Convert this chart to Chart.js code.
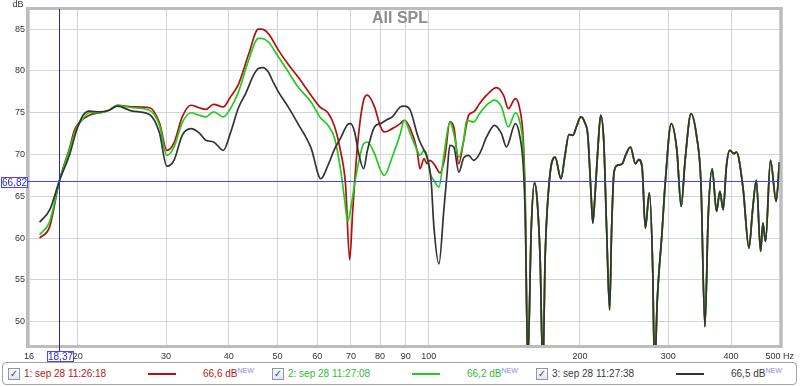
<!DOCTYPE html>
<html>
<head>
<meta charset="utf-8">
<title>All SPL</title>
<script src="https://cdn.jsdelivr.net/npm/chart.js@4.4.1/dist/chart.umd.min.js"></script>
<style>
  body { margin: 0; background: #fff; font-family: "Liberation Sans", Arial, sans-serif; }
  #wrap { position: relative; width: 800px; height: 387px; overflow: hidden; }
  #chart { position: absolute; left: 0; top: 0; }
  #legendBox { position: absolute; left: 2px; top: 362px; width: 793px; height: 21px;
               border: 1px solid #a3a3a3; border-radius: 4px; }
  .chk { position: absolute; top: 368px; width: 10px; height: 10px; border: 1px solid #8e98a4;
         background: linear-gradient(#fdfdfd, #e6e6e6); font-size: 10px; line-height: 10px;
         color: #2b55b8; text-align: center; font-family: "DejaVu Sans", sans-serif; font-weight: bold; }
  .txt { position: absolute; top: 368px; font-size: 10px; line-height: 12px; white-space: nowrap; }
  .seg { position: absolute; top: 373px; width: 28px; height: 2px; }
  .txt sup { font-size: 7px; color: #8a8af0; vertical-align: 4px; line-height: 0; }
</style>
</head>
<body>
<div id="wrap">
  <canvas id="chart" width="800" height="362"></canvas>
  <div id="legendBox"></div>
</div>
<script>
// measurement 1: sep 28 11:26:18
const redHz = [16.8, 17.6, 18.4, 19.3, 19.7, 20.2, 21.1, 22.1, 23.1, 24.0, 25.7, 27.8, 29.1, 30.1, 31.1, 32.3, 33.6, 34.9, 36.0, 37.3,
  39.0, 40.3, 41.8, 43.8, 45.8, 46.4, 47.9, 50.2, 52.5, 54.9, 58.3, 60.7, 63.0, 65.0, 66.8, 68.3, 69.6, 70.6, 72.2, 74.2,
  75.5, 78.0, 80.2, 81.6, 84.6, 87.8, 89.4, 91.9, 94.8, 96.1, 97.9, 99.2, 100.6, 102.9, 105.3, 107.7, 110.2, 112.2, 114.8, 117.4,
  120.1, 122.9, 126.3, 130.4, 136.5, 140.9, 144.1, 148.8, 151.5, 154.3, 155.7];
const redDb = [60.0, 61.4, 66.9, 70.9, 72.9, 73.9, 74.7, 75.0, 75.3, 75.9, 75.7, 75.6, 73.8, 70.5, 71.4, 74.5, 75.9, 75.6, 75.4, 76.0,
  75.7, 76.9, 78.4, 82.0, 85.0, 85.0, 84.5, 82.5, 80.8, 79.3, 77.1, 75.7, 75.0, 73.3, 70.3, 66.4, 57.4, 63.4, 71.3, 76.5,
  77.1, 75.7, 73.3, 72.7, 73.1, 73.7, 74.1, 73.1, 70.5, 68.3, 69.5, 68.9, 69.3, 68.7, 67.8, 69.7, 73.9, 73.3, 68.9, 71.7,
  74.7, 75.1, 76.1, 77.1, 78.0, 77.1, 75.5, 76.7, 75.7, 71.7, 64.6];

// measurement 2: sep 28 11:27:08
const greenHz = [16.8, 17.6, 18.4, 19.3, 19.8, 20.4, 21.1, 22.1, 23.1, 24.0, 25.7, 27.8, 29.1, 30.1, 31.1, 32.3, 33.6, 34.9, 36.0, 37.3,
  39.0, 40.3, 41.8, 43.8, 45.8, 46.4, 47.9, 50.2, 52.5, 54.9, 58.3, 60.7, 63.0, 65.0, 66.8, 68.0, 69.0, 69.9, 70.9, 72.2,
  74.2, 75.5, 78.0, 80.2, 81.6, 84.6, 87.8, 89.4, 91.9, 94.8, 96.1, 97.9, 99.2, 100.6, 102.4, 104.8, 107.2, 110.2, 112.2, 114.8,
  117.4, 119.0, 122.9, 126.3, 130.4, 135.2, 139.6, 144.1, 148.8, 151.5, 154.3, 155.7];
const greenDb = [60.4, 62.0, 66.9, 70.7, 72.9, 74.1, 75.0, 75.0, 75.3, 75.9, 75.6, 75.3, 73.5, 69.9, 70.9, 73.8, 75.0, 74.7, 74.5, 75.1,
  74.5, 75.5, 77.5, 81.3, 83.9, 83.9, 83.5, 81.7, 79.9, 78.1, 76.3, 74.5, 73.5, 71.9, 68.1, 64.6, 62.0, 63.4, 65.8, 68.5,
  71.3, 71.5, 70.1, 68.1, 67.5, 69.7, 72.5, 74.1, 72.5, 70.5, 69.9, 70.5, 69.9, 67.8, 66.9, 66.1, 69.9, 73.9, 72.5, 69.7,
  71.7, 74.1, 73.9, 74.9, 75.9, 76.5, 75.7, 73.3, 75.0, 74.1, 70.5, 63.4];

// measurement 3: sep 28 11:27:38
const blackHz = [16.8, 17.6, 18.4, 19.3, 19.9, 20.5, 21.1, 22.1, 23.1, 24.0, 25.7, 27.8, 29.1, 30.1, 31.1, 32.3, 33.6, 34.9, 36.0, 37.3,
  39.0, 40.3, 41.8, 43.2, 44.8, 45.8, 46.8, 47.9, 49.0, 50.2, 52.5, 54.9, 58.3, 61.0, 63.0, 65.0, 66.8, 69.0, 69.9, 71.2,
  72.5, 74.2, 75.5, 78.0, 80.2, 82.7, 84.6, 87.8, 89.4, 91.9, 94.8, 96.1, 97.9, 99.2, 101.1, 102.4, 104.8, 107.2, 108.7, 110.2,
  112.2, 114.8, 117.4, 120.1, 122.9, 126.3, 130.4, 135.2, 139.6, 142.8, 148.8, 151.5, 154.3, 155.7];
const blackDb = [61.9, 63.4, 66.9, 70.1, 72.9, 74.7, 75.2, 75.1, 75.3, 75.8, 75.2, 74.8, 72.6, 68.6, 69.3, 72.3, 73.1, 72.6, 71.7, 71.5,
  70.5, 72.6, 75.6, 77.3, 79.5, 80.3, 80.4, 79.9, 78.7, 77.5, 75.7, 73.7, 70.8, 67.1, 68.7, 70.7, 72.0, 73.6, 73.7, 72.7,
  70.2, 68.3, 70.5, 73.3, 73.7, 74.2, 74.5, 75.7, 75.8, 75.3, 72.5, 71.5, 70.5, 69.7, 66.9, 61.4, 56.9, 63.4, 67.5, 71.1,
  70.9, 67.9, 69.6, 69.9, 69.3, 70.1, 72.1, 73.5, 72.5, 70.9, 73.7, 72.5, 68.5, 62.2];

// above ~157 Hz the three traces lie on top of each other
const tailHz = [157.5, 160.0, 162.4, 164.4, 166.7, 168.8, 170.5, 173.9, 178.5, 183.4, 186.8, 190.2, 193.7, 197.3, 200.9, 204.6, 207.4,
  210.3, 212.2, 214.1, 217.1, 220.0, 223.1, 226.1, 229.2, 231.3, 233.8, 237.4, 242.9, 246.6, 252.2, 258.0, 261.9, 266.0,
  270.0, 275.0, 279.2, 281.7, 285.2, 291.4, 295.8, 304.0, 312.0, 318.2, 324.0, 332.9, 341.7, 348.4, 354.8, 360.2, 366.8,
  374.2, 380.0, 385.7, 391.7, 397.6, 405.5, 410.0, 422.5, 434.2, 441.6, 449.1, 458.0, 462.8, 468.5, 479.2, 491.9, 499.3];
const tailDb = [45.0, 61.0, 66.6, 64.6, 57.4, 44.0, 57.4, 66.9, 69.7, 67.1, 69.9, 72.4, 72.3, 73.5, 74.5, 73.8, 72.3,
  65.8, 61.8, 64.6, 70.5, 74.7, 71.7, 61.0, 51.4, 61.0, 67.8, 68.7, 68.9, 69.9, 70.9, 68.9, 69.4, 68.5,
  61.2, 65.4, 56.6, 44.0, 52.6, 60.6, 66.6, 73.7, 70.5, 63.8, 69.3, 74.9, 72.1, 66.6, 49.4, 62.6, 68.3,
  63.2, 65.6, 63.4, 68.7, 70.5, 70.1, 70.3, 66.0, 58.8, 63.4, 66.9, 58.4, 61.8, 59.6, 69.3, 64.4, 69.1];

const xTicks = [16, 20, 30, 40, 50, 60, 70, 80, 90, 100, 200, 300, 400, 500];
const yTicks = [50, 55, 60, 65, 70, 75, 80, 85];

const seriesNames = ['1: sep 28 11:26:18', '2: sep 28 11:27:08', '3: sep 28 11:27:38'];
const seriesLevels = ['66,6 dB', '66,2 dB', '66,5 dB'];
const lineColors = ['#b30f0f', '#1fcc1f', '#333333'];
const textColors = ['#b52020', '#33bb33', '#3a3a3a'];

const cursorHz = 18.37;
const cursorDb = 66.82;

const FONT = '"Liberation Sans", Arial, sans-serif';

function toPoints(hz, db) {
    const pts = [];
    const n = Math.min(hz.length, db.length);
    for (let i = 0; i < n; i++) pts.push({ x: hz[i], y: db[i] });
    for (let i = 0; i < tailHz.length; i++) pts.push({ x: tailHz[i], y: tailDb[i] });
    return pts;
}

// frame, title, cursor lines and their value boxes
const decor = {
    id: 'decor',
    afterDraw(chart) {
        const { ctx, chartArea: a, scales: { x, y } } = chart;
        ctx.save();

        ctx.strokeStyle = '#bcbcbc';
        ctx.lineWidth = 3;
        ctx.strokeRect(a.left - 1.5, a.top - 1.5, a.right - a.left + 3, a.bottom - a.top + 3);

        ctx.font = 'bold 16px ' + FONT;
        ctx.fillStyle = '#8c8c8c';
        ctx.textAlign = 'center';
        ctx.textBaseline = 'middle';
        ctx.fillText('All SPL', 400, 19);

        ctx.font = '9px ' + FONT;
        ctx.fillStyle = '#333';
        ctx.fillText('dB', 18, 5);

        const cx = Math.round(x.getPixelForValue(cursorHz)) + 0.5;
        const cy = Math.round(y.getPixelForValue(cursorDb)) + 0.5;
        ctx.lineWidth = 1;
        ctx.strokeStyle = '#2c2cb0';
        ctx.beginPath();
        ctx.moveTo(cx, a.top - 1);
        ctx.lineTo(cx, 351);
        ctx.stroke();
        ctx.strokeStyle = '#4545ee';
        ctx.beginPath();
        ctx.moveTo(a.left - 2, cy);
        ctx.lineTo(a.right, cy);
        ctx.stroke();

        tag(ctx, cursorDb.toFixed(2).replace('.', ','), 14, cy);
        tag(ctx, cursorHz.toFixed(2).replace('.', ','), cx, 356);
        ctx.restore();
    }
};

function tag(ctx, text, cx, cy) {
    const w = 26, h = 10;
    const l = Math.round(cx - w / 2) + 0.5, t = Math.round(cy - h / 2) + 0.5;
    ctx.fillStyle = '#fff';
    ctx.fillRect(l, t, w, h);
    ctx.strokeStyle = '#4a4ae8';
    ctx.strokeRect(l, t, w, h);
    ctx.font = '10px ' + FONT;
    ctx.fillStyle = '#2a2ad8';
    ctx.textAlign = 'center';
    ctx.textBaseline = 'middle';
    ctx.fillText(text, l + w / 2, t + h / 2 + 0.5);
}

new Chart(document.getElementById('chart'), {
    type: 'line',
    data: {
        datasets: [
            { label: seriesNames[0], data: toPoints(redHz, redDb), borderColor: lineColors[0], order: 2 },
            { label: seriesNames[1], data: toPoints(greenHz, greenDb), borderColor: lineColors[1], order: 1 },
            { label: seriesNames[2], data: toPoints(blackHz, blackDb), borderColor: lineColors[2], order: 0 }
        ]
    },
    options: {
        responsive: false,
        animation: false,
        layout: { padding: { top: 10, right: 15, left: 0, bottom: 0 } },
        elements: {
            line: { borderWidth: 1.7, cubicInterpolationMode: 'monotone', fill: false },
            point: { radius: 0, hoverRadius: 0 }
        },
        datasets: { line: { clip: 0 } },
        scales: {
            x: {
                type: 'logarithmic',
                min: 16,
                max: 500,
                afterBuildTicks: s => { s.ticks = xTicks.map(v => ({ value: v })); },
                afterFit: s => { s.height = 17; },
                ticks: {
                    autoSkip: false,
                    maxRotation: 0,
                    padding: 6,
                    color: '#333',
                    font: { family: FONT, size: 9 },
                    callback: v => v === 500 ? '500 Hz' : String(v)
                },
                grid: { color: '#d4d4d4', drawTicks: false },
                border: { display: false }
            },
            y: {
                min: 47.2,
                max: 87.3,
                afterBuildTicks: s => { s.ticks = yTicks.map(v => ({ value: v })); },
                afterFit: s => { s.width = 29; },
                ticks: {
                    padding: 4,
                    color: '#333',
                    font: { family: FONT, size: 9 }
                },
                grid: { color: '#d4d4d4', drawTicks: false },
                border: { display: false }
            }
        },
        plugins: {
            legend: { display: false },
            tooltip: { enabled: false }
        }
    },
    plugins: [decor]
});

// legend row below the plot
const wrap = document.getElementById('wrap');
seriesNames.forEach((name, i) => {
    const off = i * 264;
    const chk = document.createElement('div');
    chk.className = 'chk';
    chk.style.left = (8 + off) + 'px';
    chk.textContent = '\u2713';
    wrap.appendChild(chk);

    const label = document.createElement('div');
    label.className = 'txt';
    label.style.left = (24 + off) + 'px';
    label.style.color = textColors[i];
    label.textContent = name;
    wrap.appendChild(label);

    const seg = document.createElement('div');
    seg.className = 'seg';
    seg.style.left = (148 + off) + 'px';
    seg.style.background = lineColors[i];
    wrap.appendChild(seg);

    const lvl = document.createElement('div');
    lvl.className = 'txt';
    lvl.style.left = (203 + off) + 'px';
    lvl.style.color = textColors[i];
    lvl.innerHTML = seriesLevels[i] + '<sup>NEW</sup>';
    wrap.appendChild(lvl);
});
</script>
</body>
</html>
